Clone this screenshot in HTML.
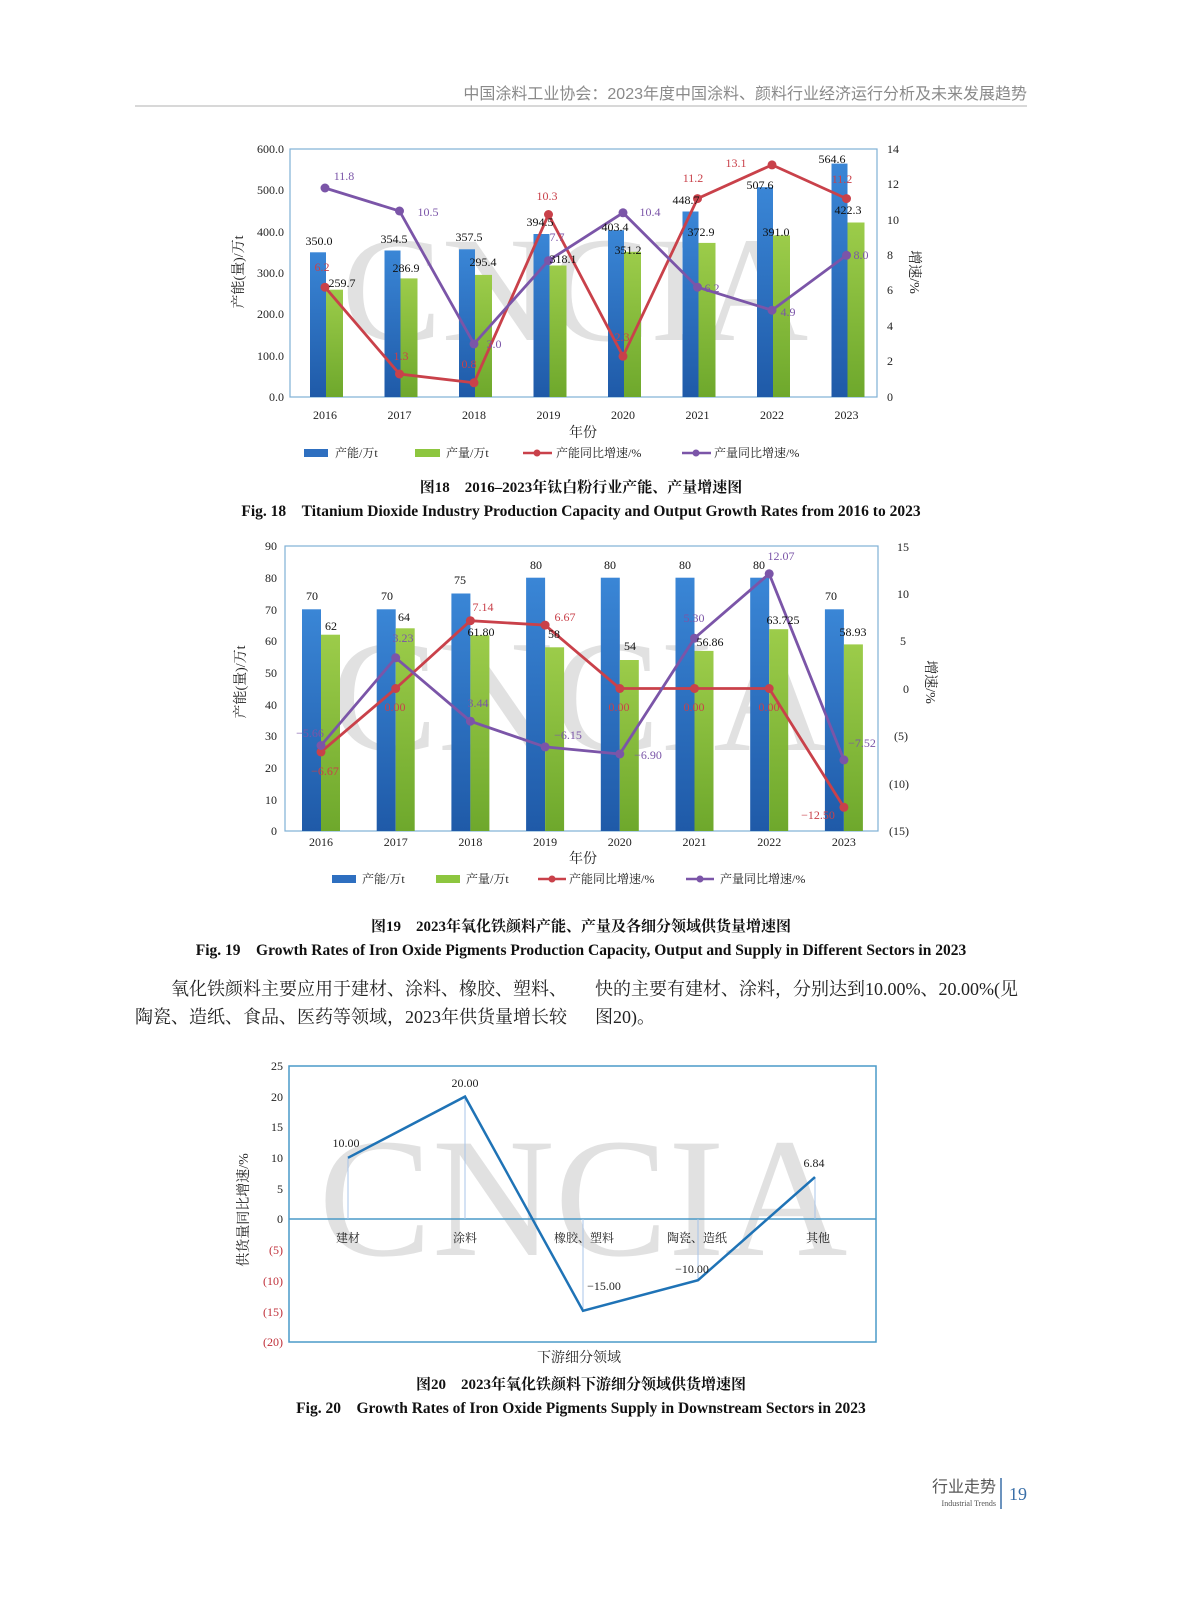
<!DOCTYPE html>
<html><head><meta charset="utf-8"><style>
html,body{margin:0;padding:0;background:#fff;}
body{width:1187px;height:1600px;position:relative;overflow:hidden;}
svg{position:absolute;left:0;top:0;}
text{font-family:"Liberation Serif","Noto Serif CJK SC",serif;}
.s{font-family:"Liberation Sans","Noto Sans CJK SC",sans-serif;}
</style></head><body>
<svg width="1187" height="1600" viewBox="0 0 1187 1600" xmlns="http://www.w3.org/2000/svg">
<defs>
<linearGradient id="gb" x1="0" y1="0" x2="0" y2="1"><stop offset="0" stop-color="#3a86d6"/><stop offset="1" stop-color="#1f5aa8"/></linearGradient>
<linearGradient id="gg" x1="0" y1="0" x2="0" y2="1"><stop offset="0" stop-color="#9ccc4a"/><stop offset="1" stop-color="#6ea82c"/></linearGradient>
</defs>
<!-- header -->
<text x="1027" y="99" text-anchor="end" font-size="16" fill="#8a8a8a" class="s">中国涂料工业协会：2023年度中国涂料、颜料行业经济运行分析及未来发展趋势</text>
<line x1="135" y1="106" x2="1027" y2="106" stroke="#ccc" stroke-width="1.5"/>

<!-- ===== Chart 1 ===== -->
<text x="575" y="340" text-anchor="middle" font-size="150" fill="#d8d8d8" opacity="0.75">CNCIA</text>
<rect x="290" y="149" width="587" height="248" fill="none" stroke="#7fb0d6" stroke-width="1.2"/>
<g font-size="12" fill="#222" text-anchor="end">
<text x="284" y="401">0.0</text><text x="284" y="360">100.0</text><text x="284" y="318">200.0</text><text x="284" y="277">300.0</text><text x="284" y="236">400.0</text><text x="284" y="194">500.0</text><text x="284" y="153">600.0</text>
</g>
<g font-size="12" fill="#222">
<text x="887" y="401">0</text><text x="887" y="365">2</text><text x="887" y="330">4</text><text x="887" y="294">6</text><text x="887" y="259">8</text><text x="887" y="224">10</text><text x="887" y="188">12</text><text x="887" y="153">14</text>
</g>
<g fill="url(#gb)">
<rect x="310" y="252.3" width="16" height="144.7"/><rect x="384.5" y="250.5" width="16" height="146.5"/><rect x="459" y="249.3" width="16" height="147.7"/><rect x="533.5" y="234" width="16" height="163"/><rect x="608" y="230.2" width="16" height="166.8"/><rect x="682.5" y="211.5" width="16" height="185.5"/><rect x="757" y="187.2" width="16" height="209.8"/><rect x="831.5" y="163.6" width="16" height="233.4"/>
</g>
<g fill="url(#gg)">
<rect x="326" y="289.7" width="17" height="107.3"/><rect x="400.5" y="278.4" width="17" height="118.6"/><rect x="475" y="274.9" width="17" height="122.1"/><rect x="549.5" y="265.5" width="17" height="131.5"/><rect x="624" y="251.8" width="17" height="145.2"/><rect x="698.5" y="242.9" width="17" height="154.1"/><rect x="773" y="235.4" width="17" height="161.6"/><rect x="847.5" y="222.5" width="17" height="174.5"/>
</g>
<polyline points="325,287.2 399.5,374 474,382.8 548.5,214.5 623,356.3 697.5,198.6 772,164.9 846.5,198.6" fill="none" stroke="#c9414a" stroke-width="2.8"/>
<g fill="#c9414a"><circle cx="325" cy="287.2" r="4.5"/><circle cx="399.5" cy="374" r="4.5"/><circle cx="474" cy="382.8" r="4.5"/><circle cx="548.5" cy="214.5" r="4.5"/><circle cx="623" cy="356.3" r="4.5"/><circle cx="697.5" cy="198.6" r="4.5"/><circle cx="772" cy="164.9" r="4.5"/><circle cx="846.5" cy="198.6" r="4.5"/></g>
<polyline points="325,188 399.5,211 474,343.9 548.5,260.6 623,212.8 697.5,287.2 772,310.2 846.5,255.3" fill="none" stroke="#7b55a8" stroke-width="2.8"/>
<g fill="#7b55a8"><circle cx="325" cy="188" r="4.5"/><circle cx="399.5" cy="211" r="4.5"/><circle cx="474" cy="343.9" r="4.5"/><circle cx="548.5" cy="260.6" r="4.5"/><circle cx="623" cy="212.8" r="4.5"/><circle cx="697.5" cy="287.2" r="4.5"/><circle cx="772" cy="310.2" r="4.5"/><circle cx="846.5" cy="255.3" r="4.5"/></g>
<g font-size="12" fill="#111" text-anchor="middle">
<text x="319" y="245">350.0</text><text x="394" y="243">354.5</text><text x="469" y="241">357.5</text><text x="540" y="226">394.5</text><text x="615" y="231">403.4</text><text x="686" y="204">448.7</text><text x="760" y="189">507.6</text><text x="832" y="163">564.6</text>
<text x="342" y="287">259.7</text><text x="406" y="272">286.9</text><text x="483" y="266">295.4</text><text x="563" y="263">318.1</text><text x="628" y="254">351.2</text><text x="701" y="236">372.9</text><text x="776" y="236">391.0</text><text x="848" y="214">422.3</text>
</g>
<g font-size="12" fill="#c9414a" text-anchor="middle">
<text x="322" y="271">6.2</text><text x="401" y="360">1.3</text><text x="469" y="368">0.8</text><text x="547" y="200">10.3</text><text x="622" y="341">2.3</text><text x="693" y="182">11.2</text><text x="736" y="167">13.1</text><text x="842" y="183">11.2</text>
</g>
<g font-size="12" fill="#7b55a8" text-anchor="middle">
<text x="344" y="180">11.8</text><text x="428" y="216">10.5</text><text x="494" y="348">3.0</text><text x="557" y="241">7.7</text><text x="650" y="216">10.4</text><text x="712" y="292">6.2</text><text x="788" y="316">4.9</text><text x="861" y="259">8.0</text>
</g>
<g font-size="12" fill="#222" text-anchor="middle">
<text x="325" y="419">2016</text><text x="399.5" y="419">2017</text><text x="474" y="419">2018</text><text x="548.5" y="419">2019</text><text x="623" y="419">2020</text><text x="697.5" y="419">2021</text><text x="772" y="419">2022</text><text x="846.5" y="419">2023</text>
</g>
<text x="583" y="437" text-anchor="middle" font-size="14" fill="#222">年份</text>
<text transform="translate(243,272) rotate(-90)" text-anchor="middle" font-size="14" fill="#222">产能(量)/万t</text>
<text transform="translate(910,272) rotate(90)" text-anchor="middle" font-size="14" fill="#222">增速/%</text>
<g font-size="12" fill="#222">
<rect x="304" y="449" width="24" height="8" fill="#2e6fc0"/><text x="335" y="457">产能/万t</text>
<rect x="415" y="449" width="25" height="8" fill="#8dc63f"/><text x="446" y="457">产量/万t</text>
<line x1="523" y1="453" x2="552" y2="453" stroke="#c9414a" stroke-width="2.5"/><circle cx="537" cy="453" r="3.5" fill="#c9414a"/><text x="556" y="457">产能同比增速/%</text>
<line x1="682" y1="453" x2="711" y2="453" stroke="#7b55a8" stroke-width="2.5"/><circle cx="696" cy="453" r="3.5" fill="#7b55a8"/><text x="714" y="457">产量同比增速/%</text>
</g>
<text x="581" y="492" text-anchor="middle" font-size="15" font-weight="bold" fill="#111">图18　2016–2023年钛白粉行业产能、产量增速图</text>
<text x="581" y="516" text-anchor="middle" font-size="15.5" font-weight="bold" fill="#111">Fig. 18　Titanium Dioxide Industry Production Capacity and Output Growth Rates from 2016 to 2023</text>

<!-- ===== Chart 2 ===== -->
<text x="580" y="750" text-anchor="middle" font-size="160" fill="#d8d8d8" opacity="0.75">CNCIA</text>
<rect x="285" y="546" width="593" height="285" fill="none" stroke="#7fb0d6" stroke-width="1.2"/>
<g font-size="12" fill="#222" text-anchor="end">
<text x="277" y="835">0</text><text x="277" y="804">10</text><text x="277" y="772">20</text><text x="277" y="740">30</text><text x="277" y="709">40</text><text x="277" y="677">50</text><text x="277" y="645">60</text><text x="277" y="614">70</text><text x="277" y="582">80</text><text x="277" y="550">90</text>
</g>
<g font-size="12" fill="#222" text-anchor="middle">
<text x="899" y="835">(15)</text><text x="899" y="788">(10)</text><text x="901" y="740">(5)</text><text x="906" y="693">0</text><text x="903" y="645">5</text><text x="903" y="598">10</text><text x="903" y="551">15</text>
</g>
<g fill="url(#gb)">
<rect x="302" y="609.3" width="19" height="221.7"/><rect x="376.7" y="609.3" width="19" height="221.7"/><rect x="451.4" y="593.5" width="19" height="237.5"/><rect x="526.1" y="577.7" width="19" height="253.3"/><rect x="600.8" y="577.7" width="19" height="253.3"/><rect x="675.5" y="577.7" width="19" height="253.3"/><rect x="750.2" y="577.7" width="19" height="253.3"/><rect x="824.9" y="609.3" width="19" height="221.7"/>
</g>
<g fill="url(#gg)">
<rect x="321" y="634.7" width="19" height="196.3"/><rect x="395.7" y="628.3" width="19" height="202.7"/><rect x="470.4" y="635.3" width="19" height="195.7"/><rect x="545.1" y="647.3" width="19" height="183.7"/><rect x="619.8" y="660" width="19" height="171"/><rect x="694.5" y="650.9" width="19" height="180.1"/><rect x="769.2" y="629.2" width="19" height="201.8"/><rect x="843.9" y="644.4" width="19" height="186.6"/>
</g>
<polyline points="321,751.9 395.7,688.5 470.4,620.7 545.1,625.1 619.8,688.5 694.5,688.5 769.2,688.5 843.9,807.3" fill="none" stroke="#c9414a" stroke-width="2.8"/>
<g fill="#c9414a"><circle cx="321" cy="751.9" r="4.5"/><circle cx="395.7" cy="688.5" r="4.5"/><circle cx="470.4" cy="620.7" r="4.5"/><circle cx="545.1" cy="625.1" r="4.5"/><circle cx="619.8" cy="688.5" r="4.5"/><circle cx="694.5" cy="688.5" r="4.5"/><circle cx="769.2" cy="688.5" r="4.5"/><circle cx="843.9" cy="807.3" r="4.5"/></g>
<polyline points="321,745.5 395.7,657.8 470.4,721.2 545.1,746.9 619.8,754 694.5,638.2 769.2,573.8 843.9,759.9" fill="none" stroke="#7b55a8" stroke-width="2.8"/>
<g fill="#7b55a8"><circle cx="321" cy="745.5" r="4.5"/><circle cx="395.7" cy="657.8" r="4.5"/><circle cx="470.4" cy="721.2" r="4.5"/><circle cx="545.1" cy="746.9" r="4.5"/><circle cx="619.8" cy="754" r="4.5"/><circle cx="694.5" cy="638.2" r="4.5"/><circle cx="769.2" cy="573.8" r="4.5"/><circle cx="843.9" cy="759.9" r="4.5"/></g>
<g font-size="12" fill="#111" text-anchor="middle">
<text x="312" y="600">70</text><text x="387" y="600">70</text><text x="460" y="584">75</text><text x="536" y="569">80</text><text x="610" y="569">80</text><text x="685" y="569">80</text><text x="759" y="569">80</text><text x="831" y="600">70</text>
<text x="331" y="630">62</text><text x="404" y="621">64</text><text x="481" y="636">61.80</text><text x="554" y="638">58</text><text x="630" y="650">54</text><text x="710" y="646">56.86</text><text x="783" y="624">63.725</text><text x="853" y="636">58.93</text>
</g>
<g font-size="12" fill="#c9414a" text-anchor="middle">
<text x="325" y="775">−6.67</text><text x="395" y="711">0.00</text><text x="483" y="611">7.14</text><text x="565" y="621">6.67</text><text x="619" y="711">0.00</text><text x="694" y="711">0.00</text><text x="769" y="711">0.00</text><text x="818" y="819">−12.50</text>
</g>
<g font-size="12" fill="#7b55a8" text-anchor="middle">
<text x="310" y="737">−5.66</text><text x="403" y="642">3.23</text><text x="478" y="707">3.44</text><text x="568" y="739">−6.15</text><text x="648" y="759">−6.90</text><text x="694" y="622">5.30</text><text x="781" y="560">12.07</text><text x="862" y="747">−7.52</text>
</g>
<g font-size="12" fill="#222" text-anchor="middle">
<text x="321" y="846">2016</text><text x="395.7" y="846">2017</text><text x="470.4" y="846">2018</text><text x="545.1" y="846">2019</text><text x="619.8" y="846">2020</text><text x="694.5" y="846">2021</text><text x="769.2" y="846">2022</text><text x="843.9" y="846">2023</text>
</g>
<text x="583" y="863" text-anchor="middle" font-size="14" fill="#222">年份</text>
<text transform="translate(245,682) rotate(-90)" text-anchor="middle" font-size="14" fill="#222">产能(量)/万t</text>
<text transform="translate(926,682) rotate(90)" text-anchor="middle" font-size="14" fill="#222">增速/%</text>
<g font-size="12" fill="#222">
<rect x="332" y="875" width="24" height="8" fill="#2e6fc0"/><text x="362" y="883">产能/万t</text>
<rect x="436" y="875" width="24" height="8" fill="#8dc63f"/><text x="466" y="883">产量/万t</text>
<line x1="538" y1="879" x2="566" y2="879" stroke="#c9414a" stroke-width="2.5"/><circle cx="552" cy="879" r="3.5" fill="#c9414a"/><text x="569" y="883">产能同比增速/%</text>
<line x1="686" y1="879" x2="714" y2="879" stroke="#7b55a8" stroke-width="2.5"/><circle cx="700" cy="879" r="3.5" fill="#7b55a8"/><text x="720" y="883">产量同比增速/%</text>
</g>
<text x="581" y="931" text-anchor="middle" font-size="15" font-weight="bold" fill="#111">图19　2023年氧化铁颜料产能、产量及各细分领域供货量增速图</text>
<text x="581" y="955" text-anchor="middle" font-size="15.5" font-weight="bold" fill="#111">Fig. 19　Growth Rates of Iron Oxide Pigments Production Capacity, Output and Supply in Different Sectors in 2023</text>

<!-- paragraph -->
<g font-size="18" fill="#222">
<text x="171" y="995">氧化铁颜料主要应用于建材、涂料、橡胶、塑料、</text>
<text x="135" y="1023">陶瓷、造纸、食品、医药等领域，2023年供货量增长较</text>
<text x="595" y="995">快的主要有建材、涂料，分别达到10.00%、20.00%(见</text>
<text x="595" y="1023">图20)。</text>
</g>

<!-- ===== Chart 3 ===== -->
<text x="583" y="1255" text-anchor="middle" font-size="170" fill="#d8d8d8" opacity="0.75">CNCIA</text>
<rect x="289" y="1066" width="587" height="276" fill="none" stroke="#4a9ac8" stroke-width="1.5"/>
<line x1="289" y1="1219" x2="876" y2="1219" stroke="#4a9ac8" stroke-width="1.5"/>
<g font-size="12" fill="#222" text-anchor="end">
<text x="283" y="1070">25</text><text x="283" y="1101">20</text><text x="283" y="1131">15</text><text x="283" y="1162">10</text><text x="283" y="1193">5</text><text x="283" y="1223">0</text>
</g>
<g font-size="12" fill="#c0303a" text-anchor="end">
<text x="283" y="1254">(5)</text><text x="283" y="1285">(10)</text><text x="283" y="1316">(15)</text><text x="283" y="1346">(20)</text>
</g>
<g stroke="#a8c4e8" stroke-width="1">
<line x1="348" y1="1157.8" x2="348" y2="1219"/><line x1="465" y1="1096.6" x2="465" y2="1219"/><line x1="583" y1="1310.8" x2="583" y2="1219"/><line x1="698" y1="1280.2" x2="698" y2="1219"/><line x1="815" y1="1177.1" x2="815" y2="1219"/>
</g>
<polyline points="348,1157.8 465,1096.6 583,1310.8 698,1280.2 815,1177.1" fill="none" stroke="#1f73b6" stroke-width="2.5"/>
<g font-size="12" fill="#222" text-anchor="middle">
<text x="346" y="1147">10.00</text><text x="465" y="1087">20.00</text><text x="604" y="1290">−15.00</text><text x="692" y="1273">−10.00</text><text x="814" y="1167">6.84</text>
<text x="348" y="1242">建材</text><text x="465" y="1242">涂料</text><text x="584" y="1242">橡胶、塑料</text><text x="697" y="1242">陶瓷、造纸</text><text x="818" y="1242">其他</text>
</g>
<text transform="translate(248,1210) rotate(-90)" text-anchor="middle" font-size="14" fill="#222">供货量同比增速/%</text>
<text x="579" y="1362" text-anchor="middle" font-size="14" fill="#222">下游细分领域</text>
<text x="581" y="1389" text-anchor="middle" font-size="15" font-weight="bold" fill="#111">图20　2023年氧化铁颜料下游细分领域供货增速图</text>
<text x="581" y="1413" text-anchor="middle" font-size="15.5" font-weight="bold" fill="#111">Fig. 20　Growth Rates of Iron Oxide Pigments Supply in Downstream Sectors in 2023</text>

<!-- footer -->
<text x="996" y="1492" text-anchor="end" font-size="16" fill="#555" class="s">行业走势</text>
<text x="996" y="1506" text-anchor="end" font-size="8" fill="#555">Industrial Trends</text>
<line x1="1001" y1="1478" x2="1001" y2="1509" stroke="#3a6fa8" stroke-width="1.5"/>
<text x="1009" y="1500" font-size="18" fill="#3a6fa8">19</text>
</svg>
</body></html>
